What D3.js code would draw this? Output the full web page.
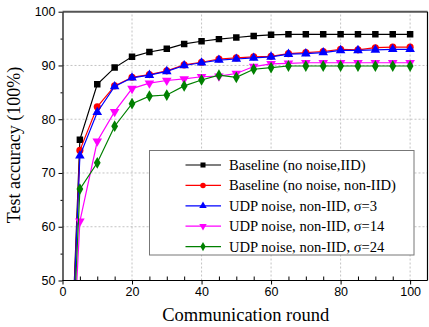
<!DOCTYPE html>
<html>
<head>
<meta charset="utf-8">
<script src="https://cdn.jsdelivr.net/npm/d3@7"></script>
<style>
  body { margin: 0; background: #fff; }
  svg { display: block; }
</style>
</head>
<body>
<div id="chart"></div>
<script>
// communication rounds (first point is the start, below the visible range)
const rounds = [1, 5, 10, 15, 20, 25, 30, 35, 40, 45, 50, 55, 60, 65, 70, 75, 80, 85, 90, 95, 100]

const baselineIID = [10, 76.2, 86.5, 89.6, 91.6, 92.5, 93.1, 94.0, 94.5, 94.9, 95.2, 95.5, 95.7, 95.8, 95.8, 95.8, 95.8, 95.8, 95.8, 95.8, 95.8]
const baselineNonIID = [10, 74.2, 82.3, 86.2, 87.8, 88.3, 89.0, 90.1, 90.6, 91.2, 91.4, 91.6, 91.7, 92.2, 92.4, 92.6, 93.0, 92.9, 93.3, 93.4, 93.4]
const udpSigma3 = [10, 73.2, 81.3, 86.1, 87.7, 88.2, 88.9, 90.0, 90.5, 91.0, 91.2, 91.4, 91.6, 92.1, 92.2, 92.4, 92.8, 92.8, 92.9, 93.0, 93.0]
const udpSigma14 = [10, 61.0, 75.9, 81.4, 85.7, 86.7, 87.2, 87.5, 87.9, 88.0, 88.5, 89.8, 90.3, 90.4, 90.5, 90.5, 90.5, 90.5, 90.5, 90.5, 90.5]
const udpSigma24 = [10, 67.0, 71.9, 78.7, 82.9, 84.3, 84.5, 86.2, 87.3, 88.2, 87.8, 89.3, 89.6, 89.9, 89.9, 89.9, 89.9, 89.9, 89.9, 89.9, 89.9]

const seriesNames = [
  "Baseline (no noise,IID)",
  "Baseline (no noise, non-IID)",
  "UDP noise, non-IID, \u03c3=3",
  "UDP noise, non-IID, \u03c3=14",
  "UDP noise, non-IID, \u03c3=24"
]
const xTicks = [0, 20, 40, 60, 80, 100]
const yTicks = [50, 60, 70, 80, 90, 100]

const series = [
  { name: seriesNames[0], values: baselineIID, color: "#000000", symbol: d3.symbolSquare, size: 42, rot: 0 },
  { name: seriesNames[1], values: baselineNonIID, color: "#ff0000", symbol: d3.symbolCircle, size: 40, rot: 0 },
  { name: seriesNames[2], values: udpSigma3, color: "#0000ff", symbol: d3.symbolTriangle, size: 40, rot: 0 },
  { name: seriesNames[3], values: udpSigma14, color: "#ff00ff", symbol: d3.symbolTriangle, size: 40, rot: 180 },
  { name: seriesNames[4], values: udpSigma24, color: "#008000", symbol: d3.symbolDiamond, size: 40, rot: 0 }
]

const W = 429, H = 327
const MARGIN = { TOP: 11.7, BOTTOM: 46.5, LEFT: 62.5, RIGHT: 1.5 }

const svg = d3.select("#chart")
  .append("svg")
  .attr("width", W)
  .attr("height", H)

const x = d3.scaleLinear()
  .domain([0, 105])
  .range([MARGIN.LEFT, W - MARGIN.RIGHT])

const y = d3.scaleLinear()
  .domain([50, 100])
  .range([H - MARGIN.BOTTOM, MARGIN.TOP])

svg.append("defs").append("clipPath")
  .attr("id", "plot")
  .append("rect")
  .attr("x", x(0))
  .attr("y", y(100))
  .attr("width", x(105) - x(0))
  .attr("height", y(50) - y(100))

// grid lines
svg.append("g")
  .selectAll("line")
  .data(xTicks.filter(d => d > 0))
  .join("line")
  .attr("x1", d => x(d)).attr("x2", d => x(d))
  .attr("y1", y(50)).attr("y2", y(100))
  .attr("stroke", "#b4b4b4")
  .attr("stroke-dasharray", "2,2")
  .attr("stroke-width", 0.8)

svg.append("g")
  .selectAll("line")
  .data(yTicks.filter(d => d > 50 && d < 100))
  .join("line")
  .attr("x1", x(0)).attr("x2", x(105))
  .attr("y1", d => y(d)).attr("y2", d => y(d))
  .attr("stroke", "#b4b4b4")
  .attr("stroke-dasharray", "2,2")
  .attr("stroke-width", 0.8)

// lines and markers
const line = d3.line()
  .x((d, i) => x(rounds[i]))
  .y(d => y(d))

const plot = svg.append("g").attr("clip-path", "url(#plot)")

series.forEach(s => {
  plot.append("path")
    .datum(s.values)
    .attr("d", line)
    .attr("fill", "none")
    .attr("stroke", s.color)
    .attr("stroke-width", 1.2)

  plot.selectAll(null)
    .data(s.values)
    .join("path")
    .attr("d", d3.symbol().type(s.symbol).size(s.size))
    .attr("transform", (d, i) => "translate(" + x(rounds[i]) + "," + y(d) + ") rotate(" + s.rot + ")")
    .attr("fill", s.color)
})

// frame: top and right
svg.append("line")
  .attr("x1", x(0)).attr("x2", x(105))
  .attr("y1", y(100)).attr("y2", y(100))
  .attr("stroke", "#555").attr("stroke-width", 2)
svg.append("line")
  .attr("x1", x(105)).attr("x2", x(105))
  .attr("y1", y(100)).attr("y2", y(50))
  .attr("stroke", "#000").attr("stroke-width", 1.2)

// x axis: minor ticks inward every 5, major ticks outward
const xAxis = svg.append("g")
  .attr("transform", "translate(0," + y(50) + ")")
xAxis.append("g")
  .call(d3.axisTop(x).tickValues(d3.range(5, 105, 5).filter(d => d % 20 !== 0)).tickSize(4).tickFormat(""))
  .call(g => g.select(".domain").remove())
xAxis.append("g")
  .call(d3.axisBottom(x).tickValues(xTicks).tickSize(4).tickSizeOuter(0).tickPadding(3))
  .call(g => g.select(".domain").attr("d", "M" + x(0) + ",0H" + x(105)).attr("stroke-width", 1.2))
  .call(g => g.selectAll("text").attr("font-family", "Liberation Sans, Arial, sans-serif").attr("font-size", 12.5).attr("fill", "#000"))

// y axis: outward ticks, minor at 5
const yAxis = svg.append("g")
  .attr("transform", "translate(" + x(0) + ",0)")
yAxis.append("g")
  .call(d3.axisLeft(y).tickValues([55, 65, 75, 85, 95]).tickSize(2).tickFormat(""))
  .call(g => g.select(".domain").remove())
yAxis.append("g")
  .call(d3.axisLeft(y).tickValues(yTicks).tickSize(4).tickSizeOuter(0).tickPadding(3))
  .call(g => g.select(".domain").attr("stroke-width", 1.2))
  .call(g => g.selectAll("text").attr("font-family", "Liberation Sans, Arial, sans-serif").attr("font-size", 12.5).attr("fill", "#000"))

// axis titles
svg.append("text")
  .attr("x", 245.7)
  .attr("y", 320.7)
  .attr("text-anchor", "middle")
  .attr("font-family", "Liberation Serif, Times New Roman, serif")
  .attr("font-size", 18.5)
  .text("Communication round")

svg.append("text")
  .attr("transform", "translate(20,145) rotate(-90)")
  .attr("text-anchor", "middle")
  .attr("font-family", "Liberation Serif, Times New Roman, serif")
  .attr("font-size", 18)
  .text("Test accuracy (100%)")

// legend
const legend = svg.append("g")
legend.append("rect")
  .attr("x", 149.5).attr("y", 150.5)
  .attr("width", 264.5).attr("height", 104.5)
  .attr("fill", "#fff")
  .attr("stroke", "#777")
  .attr("stroke-width", 1)

series.forEach((s, i) => {
  const ly = 165 + i * 20.4
  legend.append("line")
    .attr("x1", 185.5).attr("x2", 221)
    .attr("y1", ly).attr("y2", ly)
    .attr("stroke", s.color).attr("stroke-width", 1.2)
  legend.append("path")
    .attr("d", d3.symbol().type(s.symbol).size(s.size * 0.6))
    .attr("transform", "translate(203," + ly + ") rotate(" + s.rot + ")")
    .attr("fill", s.color)
  legend.append("text")
    .attr("x", 229)
    .attr("y", ly + 5)
    .attr("font-family", "Liberation Serif, Times New Roman, serif")
    .attr("font-size", 14.6)
    .text(s.name)
})
</script>
</body>
</html>
